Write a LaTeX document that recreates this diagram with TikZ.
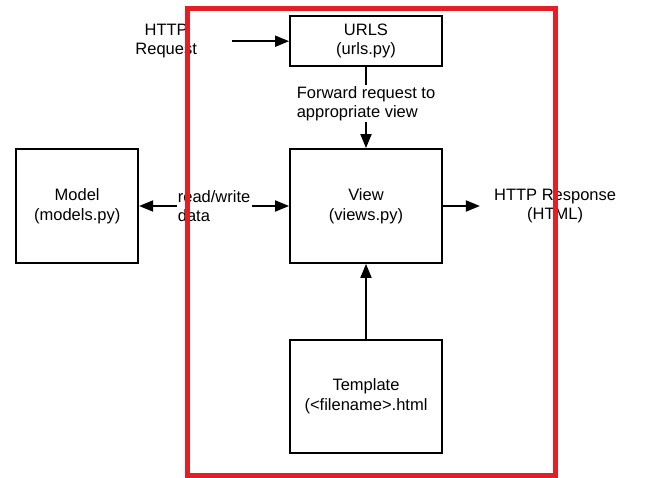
\documentclass[tikz,border=0pt]{standalone}
\usepackage{fontspec}
\setmainfont{Liberation Sans}
\usepackage{tikz}
\usetikzlibrary{arrows.meta, positioning, calc}
\definecolor{framered}{RGB}{226, 30, 38}

\begin{document}
\begin{tikzpicture}[
    x=1pt, y=-1pt,
    block/.style={rectangle, draw=black, line width=1.8pt, align=center, inner sep=0pt, font=\fontsize{16.5}{19.5}\selectfont},
    note/.style={align=center, inner sep=1pt, font=\fontsize{16.5}{19.5}\selectfont},
    arrowstyle/.style={-{Triangle[length=14pt, width=11pt]}, line width=1.8pt}
]
\useasboundingbox (0,0) rectangle (659,478);

\node[block, minimum width=152pt, minimum height=114pt] (view) at (366,206) {View\\(views.py)};
\node[block, minimum width=152pt, minimum height=50pt, above=81pt of view] (urls) {URLS\\(urls.py)};
\node[block, minimum width=122pt, minimum height=114pt, left=150pt of view] (model) {Model\\(models.py)};
\node[block, minimum width=152pt, minimum height=113pt, below=75pt of view] (tmpl) {Template\\(<filename>.html};

% labels
\node[note, left=91pt of urls] (req) {HTTP\\Request};
\node[note, align=left] (fwd) at ($(urls.south)!0.45!(view.north)$) {Forward request to\\appropriate view};
\node[note, align=left] (rw) at ($(model.east)!0.5!(view.west)$) {read/write\\data};
\node[note, right=50pt of view] (resp) {HTTP Response\\(HTML)};

\draw[arrowstyle, shorten <=34pt] (req.east |- urls.west) -- (urls.west);
\draw[line width=1.8pt] (urls.south) -- (fwd.north);
\draw[arrowstyle] (fwd.south) -- (view.north);
\draw[arrowstyle] (rw.west) -- (model.east);
\draw[arrowstyle] (rw.east) -- (view.west);
\draw[arrowstyle, shorten >=13pt] (view.east) -- (view.east -| resp.west);
\draw[arrowstyle] (tmpl.north) -- (view.south);

% highlight frame
\draw[framered, line width=5pt] (187,9) rectangle (555,475);

\end{tikzpicture}
\end{document}
